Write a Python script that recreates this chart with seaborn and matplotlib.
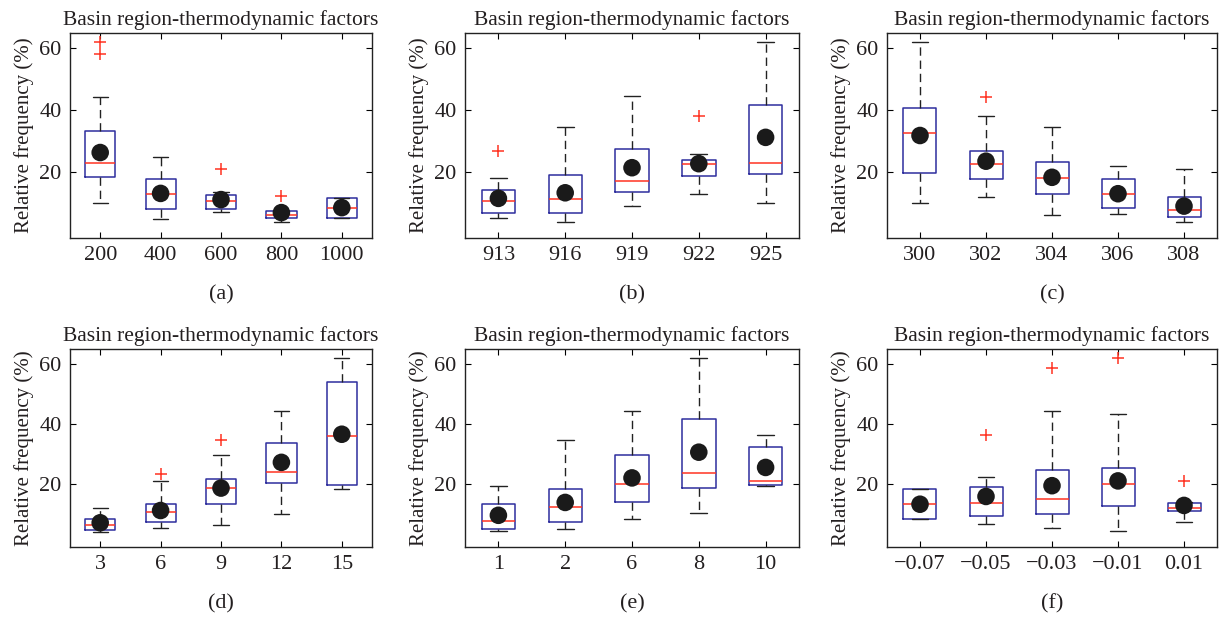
import numpy as np
import pandas as pd
import matplotlib
matplotlib.use("Agg")
import matplotlib.pyplot as plt
import seaborn as sns

TITLE = "Basin region-thermodynamic factors"
YLABEL = "Relative frequency (%)"
Y_TICKS = [20, 40, 60]

# (a)
a_labels = ["200", "400", "600", "800", "1000"]
a_whislo = [10.0, 4.8, 7.2, 4.0, 5.4]
a_q1 = [18.6, 8.2, 8.3, 5.1, 5.4]
a_med = [22.9, 13.0, 10.9, 6.3, 8.6]
a_q3 = [33.2, 17.9, 12.6, 7.5, 11.8]
a_whishi = [44.2, 24.9, 13.6, 7.6, 11.8]
a_mean = [26.4, 13.2, 11.2, 7.0, 8.6]
a_out = [[58.3, 62.0], [], [21.1], [12.3], []]

# (b)
b_labels = ["913", "916", "919", "922", "925"]
b_whislo = [5.1, 4.0, 9.2, 13.0, 10.1]
b_q1 = [7.0, 6.8, 13.5, 18.8, 19.5]
b_med = [10.9, 11.3, 17.1, 22.7, 23.1]
b_q3 = [14.4, 19.1, 27.4, 23.9, 41.8]
b_whishi = [18.2, 34.7, 44.5, 25.8, 62.0]
b_mean = [11.6, 13.4, 21.5, 22.8, 31.3]
b_out = [[26.9], [], [], [38.1], []]

# (c)
c_labels = ["300", "302", "304", "306", "308"]
c_whislo = [10.1, 12.2, 6.3, 6.4, 4.0]
c_q1 = [19.8, 17.9, 13.0, 8.4, 5.5]
c_med = [32.7, 22.6, 18.1, 13.0, 7.7]
c_q3 = [40.9, 26.9, 23.5, 18.0, 12.1]
c_whishi = [62.0, 38.2, 34.6, 22.1, 21.0]
c_mean = [31.9, 23.6, 18.4, 13.1, 9.1]
c_out = [[], [44.4], [], [], []]

# (d)
d_labels = ["3", "6", "9", "12", "15"]
d_whislo = [3.7, 5.2, 6.1, 9.8, 18.3]
d_q1 = [4.6, 7.2, 13.1, 20.2, 19.4]
d_med = [6.3, 10.6, 18.5, 23.8, 36.0]
d_q3 = [8.2, 13.2, 21.7, 33.7, 54.1]
d_whishi = [12.0, 20.9, 29.6, 44.2, 61.9]
d_mean = [6.9, 11.0, 18.5, 27.1, 36.5]
d_out = [[], [23.2], [34.5], [], []]

# (e)
e_labels = ["1", "2", "6", "8", "10"]
e_whislo = [4.0, 4.7, 8.2, 10.1, 19.1]
e_q1 = [4.9, 7.2, 13.7, 18.4, 19.6]
e_med = [7.6, 12.1, 19.9, 23.6, 21.0]
e_q3 = [13.3, 18.3, 29.7, 41.7, 32.3]
e_whishi = [19.3, 34.6, 44.4, 62.0, 36.2]
e_mean = [9.4, 13.7, 21.9, 30.5, 25.4]
e_out = [[], [], [], [], []]

# (f)
f_labels = ["\u22120.07", "\u22120.05", "\u22120.03", "\u22120.01", "0.01"]
f_whislo = [8.0, 6.6, 5.1, 4.0, 7.1]
f_q1 = [8.0, 9.1, 9.7, 12.6, 10.7]
f_med = [13.1, 13.6, 14.7, 19.7, 12.0]
f_q3 = [18.2, 19.0, 24.4, 25.3, 13.6]
f_whishi = [18.2, 22.1, 44.3, 43.4, 13.8]
f_mean = [13.1, 15.7, 19.3, 20.9, 12.7]
f_out = [[], [36.1], [58.5], [62.0], [20.9]]

panel_tags = ["(a)", "(b)", "(c)", "(d)", "(e)", "(f)"]

sns.set_style("ticks")
plt.rcParams["font.family"] = ["Liberation Serif", "DejaVu Serif"]
TXT = "#231f20"
plt.rcParams["text.color"] = TXT
plt.rcParams["axes.labelcolor"] = TXT
plt.rcParams["xtick.color"] = "black"
plt.rcParams["ytick.color"] = "black"
plt.rcParams["xtick.labelcolor"] = TXT
plt.rcParams["ytick.labelcolor"] = TXT

BLUE = "#2e2e9e"
RED = "#ff3322"

W, H = 1220, 620
fig = plt.figure(figsize=(W / 100, H / 100), dpi=100)

# axes rectangles in pixels: left, top, right, bottom
rects = [
    (70, 33, 372, 238), (465, 33, 799, 238), (887, 33, 1217, 238),
    (70, 349, 372, 547), (465, 349, 799, 547), (887, 349, 1217, 547),
]

panels = [
    (a_labels, a_whislo, a_q1, a_med, a_q3, a_whishi, a_mean, a_out),
    (b_labels, b_whislo, b_q1, b_med, b_q3, b_whishi, b_mean, b_out),
    (c_labels, c_whislo, c_q1, c_med, c_q3, c_whishi, c_mean, c_out),
    (d_labels, d_whislo, d_q1, d_med, d_q3, d_whishi, d_mean, d_out),
    (e_labels, e_whislo, e_q1, e_med, e_q3, e_whishi, e_mean, e_out),
    (f_labels, f_whislo, f_q1, f_med, f_q3, f_whishi, f_mean, f_out),
]

for (l, t, r, b), (labels, lo, q1, med, q3, hi, mean, out), tag in zip(rects, panels, panel_tags):
    ax = fig.add_axes([l / W, 1 - b / H, (r - l) / W, (b - t) / H])
    positions = list(range(1, len(labels) + 1))
    stats = [
        dict(whislo=lo[i], q1=q1[i], med=med[i], q3=q3[i], whishi=hi[i],
             fliers=np.array(out[i], dtype=float), label=labels[i])
        for i in range(len(labels))
    ]
    ax.bxp(stats, positions=positions, widths=0.5, manage_ticks=False,
           boxprops=dict(color=BLUE, linewidth=1.1),
           medianprops=dict(color=RED, linewidth=1.1),
           whiskerprops=dict(color="#222222", linewidth=1.0, linestyle=(0, (6, 3.5))),
           capprops=dict(color="#222222", linewidth=1.0),
           flierprops=dict(marker="+", markeredgecolor=RED, markersize=9,
                           markeredgewidth=1.1, linestyle="none"))
    df = pd.DataFrame({"pos": positions, "mean": mean})
    sns.scatterplot(data=df, x="pos", y="mean", ax=ax, color="#1a1a1a", s=160,
                    edgecolor="none", zorder=5, legend=False)
    ax.set_xlim(0.5, len(labels) + 0.5)
    ax.set_ylim(-1.2, 65)
    ax.set_xticks(positions, labels)
    ax.set_yticks(Y_TICKS)
    ax.tick_params(direction="in", top=True, right=True, length=4, width=0.8,
                   labelsize=16, pad=6)
    for s in ax.spines.values():
        s.set_visible(True)
        s.set_color("#222222")
        s.set_linewidth(1.0)
    ax.set_title(TITLE, fontsize=15.5, pad=6)
    ax.set_ylabel(YLABEL, fontsize=15, labelpad=4)
    ax.set_xlabel(tag, fontsize=16, labelpad=14)

fig.savefig("out.png", dpi=100)
